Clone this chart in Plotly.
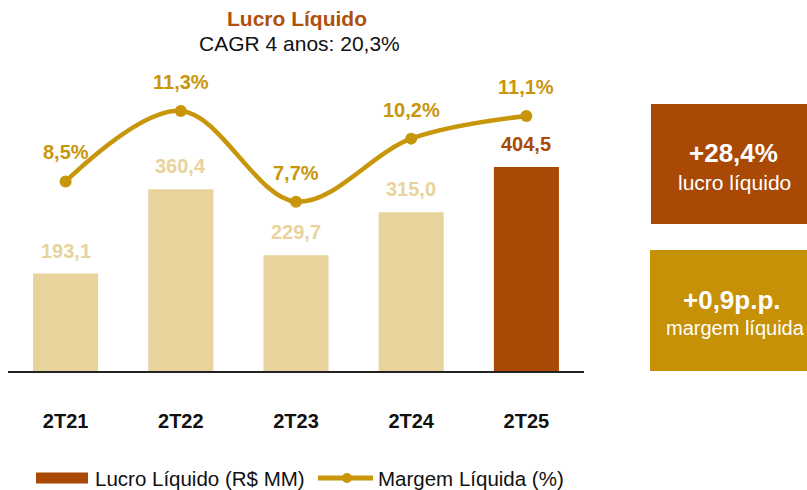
import plotly.graph_objects as go

categories = ["2T21", "2T22", "2T23", "2T24", "2T25"]
lucro = [193.1, 360.4, 229.7, 315.0, 404.5]
margem = [8.5, 11.3, 7.7, 10.2, 11.1]
lucro_labels = ["193,1", "360,4", "229,7", "315,0", "404,5"]
margem_labels = ["8,5%", "11,3%", "7,7%", "10,2%", "11,1%"]

W, H = 807, 490
FONT = "Liberation Sans, Arial, sans-serif"
BROWN = "#A94905"
GOLD = "#C8960A"
LIGHT = "#E9D39D"
BOX_GOLD = "#C69106"

def px(x):
    return x / W

def py(y):
    return (H - y) / H

bar_colors = [LIGHT] * (len(categories) - 1) + [BROWN]

fig = go.Figure()
fig.add_trace(go.Bar(
    x=categories, y=lucro, marker=dict(color=bar_colors, line=dict(width=0)),
    width=0.565, name="Lucro Líquido (R$ MM)", showlegend=False, hoverinfo="skip",
))
fig.add_trace(go.Scatter(
    x=categories, y=margem, yaxis="y2", mode="lines+markers",
    line=dict(color=GOLD, width=4.5, shape="spline", smoothing=1.0),
    marker=dict(color=GOLD, size=12),
    name="Margem Líquida (%)", showlegend=False, hoverinfo="skip",
))

annotations = []
for c, v, t, col in zip(categories, lucro, lucro_labels, bar_colors):
    annotations.append(dict(x=c, y=v, xref="x", yref="y", text=f"<b>{t}</b>",
                            showarrow=False, yshift=23, yanchor="middle",
                            font=dict(family=FONT, size=20, color=col)))
for c, v, t in zip(categories, margem, margem_labels):
    annotations.append(dict(x=c, y=v, xref="x", yref="y2", text=f"<b>{t}</b>",
                            showarrow=False, yshift=29, yanchor="middle",
                            font=dict(family=FONT, size=20, color=GOLD)))

# Title
annotations.append(dict(x=px(297), y=py(18), xref="paper", yref="paper",
                        text="<b>Lucro Líquido</b>", showarrow=False,
                        xanchor="center", yanchor="middle",
                        font=dict(family=FONT, size=21, color="#B0500A")))
annotations.append(dict(x=px(299), y=py(43), xref="paper", yref="paper",
                        text="CAGR 4 anos: 20,3%", showarrow=False,
                        xanchor="center", yanchor="middle",
                        font=dict(family=FONT, size=21, color="#111111")))

# Side boxes
shapes = [
    dict(type="rect", xref="paper", yref="paper", x0=px(651), x1=px(812),
         y0=py(224), y1=py(104), fillcolor=BROWN, line=dict(width=0), layer="below"),
    dict(type="rect", xref="paper", yref="paper", x0=px(650), x1=px(812),
         y0=py(371), y1=py(250), fillcolor=BOX_GOLD, line=dict(width=0), layer="below"),
]
annotations += [
    dict(x=px(733), y=py(153), xref="paper", yref="paper", text="<b>+28,4%</b>",
         showarrow=False, xanchor="center", yanchor="middle",
         font=dict(family=FONT, size=26, color="white")),
    dict(x=px(734), y=py(182), xref="paper", yref="paper", text="lucro líquido",
         showarrow=False, xanchor="center", yanchor="middle",
         font=dict(family=FONT, size=21, color="white")),
    dict(x=px(732), y=py(300), xref="paper", yref="paper", text="<b>+0,9p.p.</b>",
         showarrow=False, xanchor="center", yanchor="middle",
         font=dict(family=FONT, size=26, color="white")),
    dict(x=px(735), y=py(328), xref="paper", yref="paper", text="margem líquida",
         showarrow=False, xanchor="center", yanchor="middle",
         font=dict(family=FONT, size=20, color="white")),
]

# Manual legend
LEG_Y = 478
shapes += [
    dict(type="rect", xref="paper", yref="paper", x0=px(36), x1=px(88),
         y0=py(LEG_Y + 5.5), y1=py(LEG_Y - 5.5), fillcolor=BROWN, line=dict(width=0)),
    dict(type="line", xref="paper", yref="paper", x0=px(318), x1=px(373),
         y0=py(LEG_Y), y1=py(LEG_Y), line=dict(color=GOLD, width=5)),
    dict(type="circle", xref="paper", yref="paper", x0=px(342), x1=px(352),
         y0=py(LEG_Y + 5), y1=py(LEG_Y - 5), fillcolor=GOLD, line=dict(width=0)),
]
annotations += [
    dict(x=px(93), y=py(LEG_Y), xref="paper", yref="paper", text="Lucro Líquido (R$ MM)",
         showarrow=False, xanchor="left", yanchor="middle",
         font=dict(family=FONT, size=20.5, color="#111111")),
    dict(x=px(376), y=py(LEG_Y), xref="paper", yref="paper", text="Margem Líquida (%)",
         showarrow=False, xanchor="left", yanchor="middle",
         font=dict(family=FONT, size=20.5, color="#111111")),
]

fig.update_layout(
    width=W, height=H, margin=dict(l=0, r=0, t=0, b=0),
    paper_bgcolor="white", plot_bgcolor="white",
    showlegend=False, bargap=0.435,
    xaxis=dict(domain=[px(8), px(584)], showgrid=False, zeroline=False,
               showline=True, linecolor="#222222", linewidth=2,
               ticks="", ticklabelstandoff=31,
               tickfont=dict(family=FONT, size=20, color="#111111", weight="bold")),
    yaxis=dict(domain=[py(371), py(60)], range=[0, 616.7], visible=False,
               showgrid=False, zeroline=False),
    yaxis2=dict(domain=[py(371), py(60)], range=[0.98, 13.32], overlaying="y",
                visible=False, showgrid=False, zeroline=False),
    annotations=annotations, shapes=shapes,
)

fig.write_html("out.html", config={"displayModeBar": False},
               post_script="document.body.style.margin='0';document.body.style.overflow='hidden';")
